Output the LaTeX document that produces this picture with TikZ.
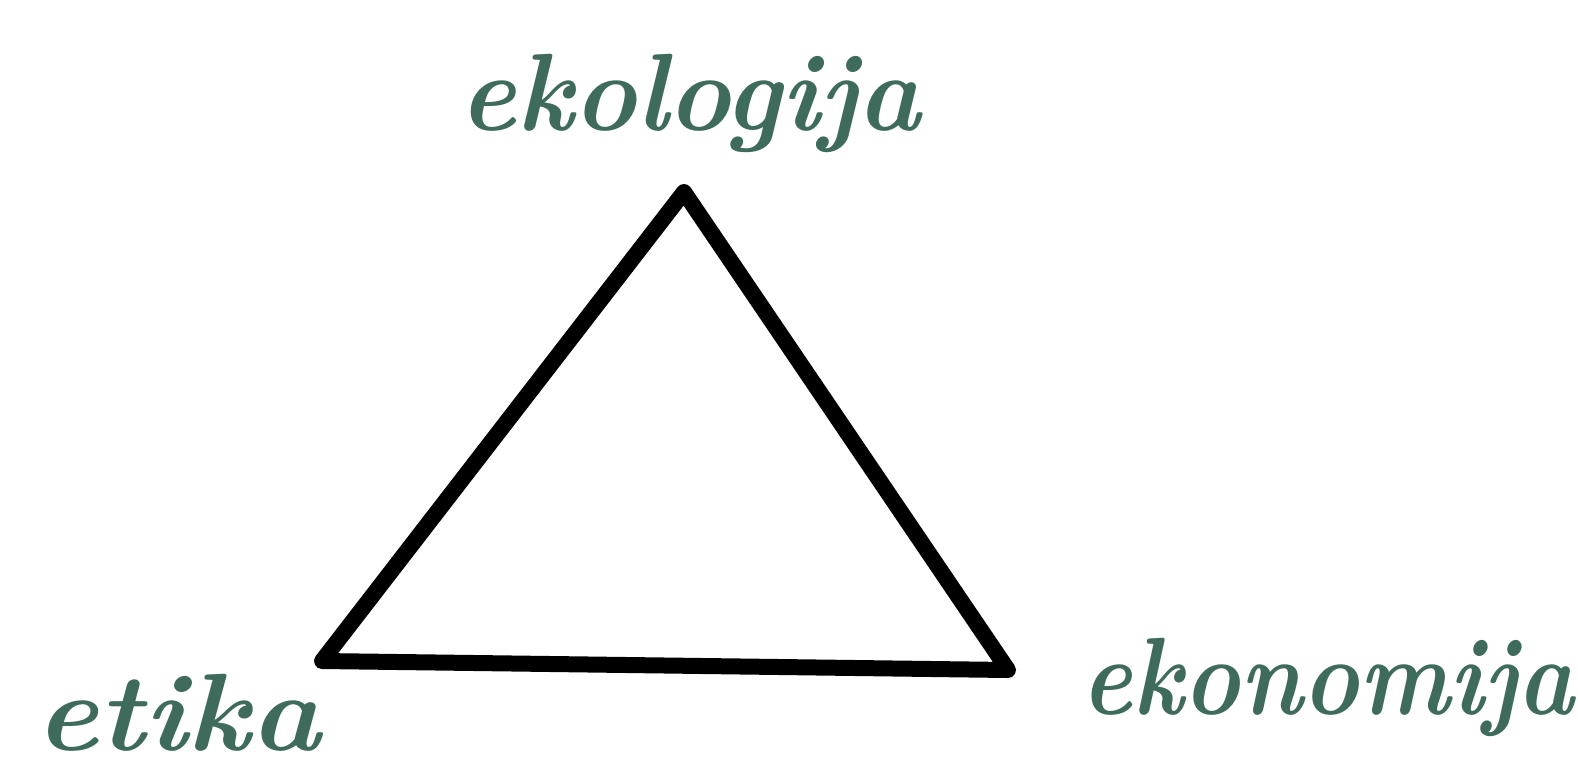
\documentclass[tikz,border=0pt]{standalone}
\usepackage{fontspec}
\usepackage{graphicx}
\definecolor{labelgreen}{HTML}{3E6B5C}
\tikzset{
  lbl/.style={text=labelgreen, font=\fontsize{110}{110}\selectfont\bfseries\itshape, anchor=base, inner sep=0pt},
  edge/.style={line width=16pt, line join=round, line cap=round, draw=black}
}
\begin{document}
\begin{tikzpicture}[x=1pt,y=-1pt]
\useasboundingbox (0,0) rectangle (1578,777);
\coordinate (top) at (684,192);
\coordinate (bl) at (322,661);
\coordinate (br) at (1008,670);
\draw[edge] (top) -- (br) -- (bl) -- cycle;
\node[lbl] (eko) at (690,130) {\scalebox{0.97}[1]{ekologija}};
\node[lbl] (eti) at (178,750) {\scalebox{1.08}[1]{etika}};
\node[lbl] (ekon) at (1328,714) {\scalebox{0.87}[1]{ekonomija}};
\end{tikzpicture}
\end{document}
